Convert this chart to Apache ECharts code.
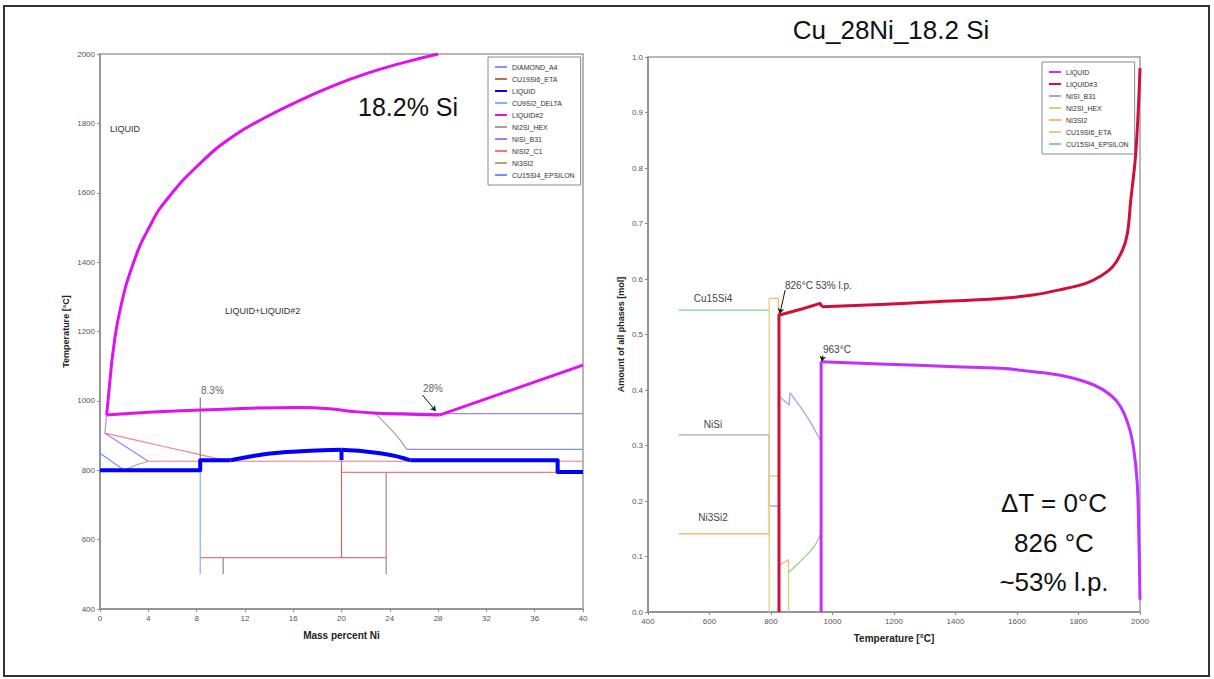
<!DOCTYPE html>
<html><head><meta charset="utf-8">
<script src="https://cdn.jsdelivr.net/npm/echarts/dist/echarts.min.js"></script>
<style>html,body{margin:0;padding:0;background:#fff}#c{width:1214px;height:679px}</style>
</head><body><div id="c"></div>
<script>
// ---------------- tick labels ----------------
const leftXTicks = [0,4,8,12,16,20,24,28,32,36,40];
const leftYTicks = [400,600,800,1000,1200,1400,1600,1800,2000];
const rightXTicks = [400,600,800,1000,1200,1400,1600,1800,2000];
const rightYTicks = [0,0.1,0.2,0.3,0.4,0.5,0.6,0.7,0.8,0.9,1.0];

const leftLegendNames = ['DIAMOND_A4','CU19SI6_ETA','LIQUID','CU9SI2_DELTA','LIQUID#2','NI2SI_HEX','NISI_B31','NISI2_C1','NI3SI2','CU15SI4_EPSILON'];
const rightLegendNames = ['LIQUID','LIQUID#3','NISI_B31','NI2SI_HEX','NI3SI2','CU19SI6_ETA','CU15SI4_EPSILON'];

// ---------------- left: phase diagram (Mass % Ni, T °C) ----------------
const liq2Upper = [[0.55,959],[0.8,1050],[1.1,1147],[1.66,1262],[2.76,1397],[4.1,1502],[5.5,1579],[8.3,1685],[11.0,1762],[13.8,1819],[16.6,1867],[19.3,1908],[22.1,1944],[24.9,1973],[28.0,2000]];
const liq2Lower = [[0.55,959],[4,967],[8.4,974],[12.5,979],[16.7,981],[19.0,977],[21.1,969],[22.6,965],[25.0,962],[28.1,959]];
const liq2Rise = [[28.1,959],[40,1103]];
const liqThickA = [[0,800],[8.3,800],[8.3,829],[10.8,829]];
const liqThickC1 = [[10.8,829],[12.8,842],[15.0,851],[17.5,856],[20.0,859]];
const liqThickStep = [[20.0,859],[20.0,829]];
const liqThickC2 = [[20.0,859],[21.8,855],[23.2,849],[24.6,840],[25.4,832],[25.7,829]];
const liqThickB = [[25.7,829],[37.9,829],[37.9,795],[40,795]];
const diamondTop = [[22.6,967],[28.1,963],[40,963]];
const diamondMid = [[25.4,860],[40,860]];
const ni2siHex = [[22.8,964],[23.9,925],[24.8,890],[25.4,860]];
const nisi2H826 = [[4.0,826],[40,826]];
const nisi2H794 = [[20,794],[40,794]];
const nisi2Diag = [[0.4,907],[5.1,870],[9.9,832]];
const nisi2H548 = [[8.3,548],[23.7,548]];
const eta20V = [[20,826],[20,548]];
const eta237V = [[23.7,794],[23.7,500]];
const eta102V = [[10.2,548],[10.2,500]];
const delta83V = [[8.3,826],[8.3,500]];
const nisiB31Diag = [[0.4,907],[4.0,826]];
const nisiB31Short = [[0.55,959],[0.4,907]];
const epsBlue = [[0,849],[1.8,805]];
const ni3si2Curve = [[2.2,803],[3.0,815],[4.0,826]];
const mark83 = [[8.3,1010],[8.3,800]];
const arrow28 = [[26.7,1017],[27.8,971]];

// ---------------- right: amount of phases (T °C, mol) ----------------
const r_liq3Rise = [[826,0],[826,0.535],[840,0.537],[900,0.546],[960,0.556],[966,0.550]];
const r_liq3Tail = [[966,0.550],[1155,0.554],[1300,0.558],[1543,0.565],[1651,0.571],[1759,0.583],[1824,0.592],[1868,0.604],[1911,0.622],[1943,0.652],[1959,0.682],[1970,0.742],[1981,0.796],[1987,0.832],[1994,0.90],[1998,0.95],[2000,0.98]];
const r_liqRise = [[963,0],[963,0.451]];
const r_liqTail = [[963,0.451],[1155,0.447],[1400,0.442],[1546,0.439],[1655,0.433],[1763,0.424],[1850,0.409],[1904,0.391],[1937,0.370],[1964,0.334],[1980,0.292],[1991,0.232],[1996,0.142],[2000,0.022]];
const r_eps = [[500,0.544],[794,0.544]];
const r_nisiA = [[500,0.319],[794,0.319],[794,0.191],[824,0.191]];
const r_nisiB = [[828,0.388],[859,0.373],[862,0.395]];
const r_nisiC = [[862,0.395],[895,0.370],[927,0.343],[960,0.310]];
const r_ni3si2A = [[500,0.141],[794,0.141],[794,0.245],[824,0.245]];
const r_ni3si2B = [[828,0.085],[857,0.094],[857,0.071]];
const r_etaV = [[794,0],[794,0.565]];
const r_etaBox = [[794,0.565],[824,0.565],[824,0.245]];
const r_ni2siV = [[857,0],[857,0.071]];
const r_ni2si = [[857,0.071],[884,0.085],[917,0.103],[944,0.121],[960,0.139]];
const arrow826 = [[846,0.580],[829,0.538]];
const arrow963 = [[969,0.462],[965,0.452]];

// ---------------- build ----------------
const FONT = "'Liberation Sans', Arial, sans-serif";
function seg(name, data, color, width, gi, z, smooth) {
  const s = {type:'line', name:name, data:data, xAxisIndex:gi, yAxisIndex:gi, symbol:'none', showSymbol:false,
    lineStyle:{color:color, width:width, join:'round'}, itemStyle:{color:color}, color:color,
    silent:true, animation:false, z:z||2};
  if (smooth) { s.smooth = smooth; }
  return s;
}
function arrowLine(data, gi) {
  return {type:'line', data:[], xAxisIndex:gi, yAxisIndex:gi, symbol:'none', silent:true, animation:false, z:5,
    markLine:{silent:true, symbol:['none','arrow'], symbolSize:5, label:{show:false},
      lineStyle:{color:'#111', width:1, type:'solid'},
      data:[[{coord:data[0]},{coord:data[1]}]]}};
}
function axisCommon(ticks, fmt) {
  return {type:'value', min:ticks[0], max:ticks[ticks.length-1], interval:+(ticks[1]-ticks[0]).toFixed(6),
    axisLine:{show:true, onZero:false, lineStyle:{color:'#8a8a8a', width:1.5}},
    axisTick:{show:true, length:3, lineStyle:{color:'#8a8a8a'}},
    axisLabel:{fontSize:8, color:'#555', margin:5, fontFamily:FONT, formatter:fmt || (v => String(v))},
    splitLine:{show:false},
    nameLocation:'middle',
    nameTextStyle:{fontSize:10, fontWeight:'bold', color:'#222', fontFamily:FONT}};
}
const L = 'L:', R = 'R:';
const series = [
  seg(L+'DIAMOND_A4', diamondTop, '#8c8cff', 1.2, 0),
  seg(L+'DIAMOND_A4', diamondMid, '#8c8cff', 1.2, 0),
  seg(L+'NI2SI_HEX', ni2siHex, '#a0a0a0', 1.2, 0, 2, 0.3),
  seg(L+'NISI2_C1', nisi2H826, '#f07878', 1.2, 0),
  seg(L+'NISI2_C1', nisi2H794, '#f07878', 1.2, 0),
  seg(L+'NISI2_C1', nisi2Diag, '#f08888', 1.2, 0, 2, 0.3),
  seg(L+'NISI2_C1', nisi2H548, '#f07070', 1.2, 0),
  seg(L+'CU19SI6_ETA', eta20V, '#c06868', 1.2, 0),
  seg(L+'CU19SI6_ETA', eta237V, '#b08888', 1.2, 0),
  seg(L+'CU19SI6_ETA', eta102V, '#a08080', 1.2, 0),
  seg(L+'CU9SI2_DELTA', delta83V, '#8aaaff', 1.2, 0),
  seg(L+'NISI_B31', nisiB31Diag, '#a080f0', 1.2, 0),
  seg(L+'NISI_B31', nisiB31Short, '#b890f0', 1.2, 0),
  seg(L+'CU15SI4_EPSILON', epsBlue, '#7090ff', 1.2, 0),
  seg(L+'NI3SI2', ni3si2Curve, '#b0a880', 1.2, 0, 2, 0.3),
  seg('mark83', mark83, '#666', 1, 0),
  seg(L+'LIQUID#2', liq2Upper, '#e010f0', 3, 0, 4, 0.5),
  seg(L+'LIQUID#2', liq2Lower, '#e010f0', 3, 0, 4, 0.3),
  seg(L+'LIQUID#2', liq2Rise, '#e010f0', 3, 0, 4),
  seg(L+'LIQUID', liqThickA, '#0000ff', 4, 0, 4),
  seg(L+'LIQUID', liqThickC1, '#0000ff', 4, 0, 4, 0.3),
  seg(L+'LIQUID', liqThickStep, '#0000ff', 4, 0, 4),
  seg(L+'LIQUID', liqThickC2, '#0000ff', 4, 0, 4, 0.3),
  seg(L+'LIQUID', liqThickB, '#0000ff', 4, 0, 4),
  arrowLine(arrow28, 0),

  seg(R+'CU15SI4_EPSILON', r_eps, '#70d898', 1.3, 1),
  seg(R+'NISI_B31', r_nisiA, '#c09ad8', 1.3, 1),
  seg(R+'NISI_B31', r_nisiB, '#c09ad8', 1.3, 1),
  seg(R+'NISI_B31', r_nisiC, '#c09ad8', 1.3, 1, 2, 0.3),
  seg(R+'NI3SI2', r_ni3si2A, '#f8bc70', 1.3, 1),
  seg(R+'NI3SI2', r_ni3si2B, '#f8bc70', 1.3, 1),
  seg(R+'CU19SI6_ETA', r_etaV, '#e0d080', 1.3, 1),
  seg(R+'CU19SI6_ETA', r_etaBox, '#f4b860', 1.3, 1),
  seg(R+'NI2SI_HEX', r_ni2siV, '#c8d878', 1.3, 1),
  seg(R+'NI2SI_HEX', r_ni2si, '#a0d088', 1.3, 1, 2, 0.3),
  seg(R+'LIQUID', r_liqRise, '#c030ff', 3, 1, 4),
  seg(R+'LIQUID', r_liqTail, '#c030ff', 3, 1, 4, 0.4),
  seg(R+'LIQUID#3', r_liq3Rise, '#d0103a', 3, 1, 4),
  seg(R+'LIQUID#3', r_liq3Tail, '#d0103a', 3, 1, 4, 0.4),
  arrowLine(arrow826, 1),
  arrowLine(arrow963, 1)
];

function legendCfg(names, prefix, left, top) {
  return {orient:'vertical', left:left, top:top, itemWidth:12, itemHeight:6, itemGap:4,
    padding:[6,6,6,6], borderColor:'#8a8a8a', borderWidth:1, backgroundColor:'#fff',
    selectedMode:false, data:names.map(n=>prefix+n),
    formatter:function(n){return n.slice(2);},
    itemStyle:{opacity:0},
    textStyle:{fontSize:7, color:'#333', fontFamily:FONT, lineHeight:8}};
}

const xL = axisCommon(leftXTicks); xL.gridIndex=0; xL.name='Mass percent Ni'; xL.nameGap=21;
const yL = axisCommon(leftYTicks); yL.gridIndex=0; yL.name='Temperature [°C]'; yL.nameGap=30; yL.nameTextStyle.fontSize=9;
const xR = axisCommon(rightXTicks); xR.gridIndex=1; xR.name='Temperature [°C]'; xR.nameGap=21;
const yR = axisCommon(rightYTicks, v=>v.toFixed(1)); yR.gridIndex=1; yR.name='Amount of all phases [mol]'; yR.nameGap=23; yR.nameTextStyle.fontSize=9;

function txt(x, y, s, size, fill, align, weight) {
  return {type:'text', x:x, y:y, silent:true, z:10,
    style:{text:s, fontSize:size, fill:fill||'#222', fontFamily:FONT, fontWeight:weight||'normal',
      textAlign:align||'left', textVerticalAlign:'middle', verticalAlign:'middle', align:align||'left'}};
}

const option = {
  backgroundColor:'#fff',
  animation:false,
  grid:[
    {left:100, top:54, width:483, height:555, show:true, borderColor:'#a0a0a0', borderWidth:1.5, backgroundColor:'transparent'},
    {left:648, top:57, width:492, height:555, show:true, borderColor:'#a0a0a0', borderWidth:1.5, backgroundColor:'transparent'}
  ],
  xAxis:[xL, xR],
  yAxis:[yL, yR],
  legend:[legendCfg(leftLegendNames, L, 488, 57), legendCfg(rightLegendNames, R, 1042, 62)],
  series:series,
  graphic:[
    {type:'rect', shape:{x:4, y:6, width:1205, height:670}, style:{fill:'none', stroke:'#333', lineWidth:2}, silent:true, z:0},
    txt(891, 30, 'Cu_28Ni_18.2 Si', 26, '#111', 'center'),
    txt(358, 107, '18.2% Si', 25, '#111', 'left'),
    txt(1054, 503, 'ΔT = 0°C', 26, '#111', 'center'),
    txt(1054, 543, '826 °C', 26, '#111', 'center'),
    txt(1054, 582, '~53% l.p.', 26, '#111', 'center'),
    txt(110, 129, 'LIQUID', 9, '#333'),
    txt(225, 311, 'LIQUID+LIQUID#2', 9, '#333'),
    txt(201, 390, '8.3%', 10, '#666'),
    txt(423, 388, '28%', 10, '#666'),
    txt(713, 298, 'Cu15Si4', 10, '#444', 'center'),
    txt(713, 424, 'NiSi', 10, '#444', 'center'),
    txt(713, 517, 'Ni3Si2', 10, '#444', 'center'),
    txt(785, 285, '826°C 53% l.p.', 10, '#444'),
    txt(823, 349, '963°C', 10, '#444')
  ]
};
const chart = echarts.init(document.getElementById('c'), null, {renderer:'svg'});
chart.setOption(option);
</script>
</body></html>
